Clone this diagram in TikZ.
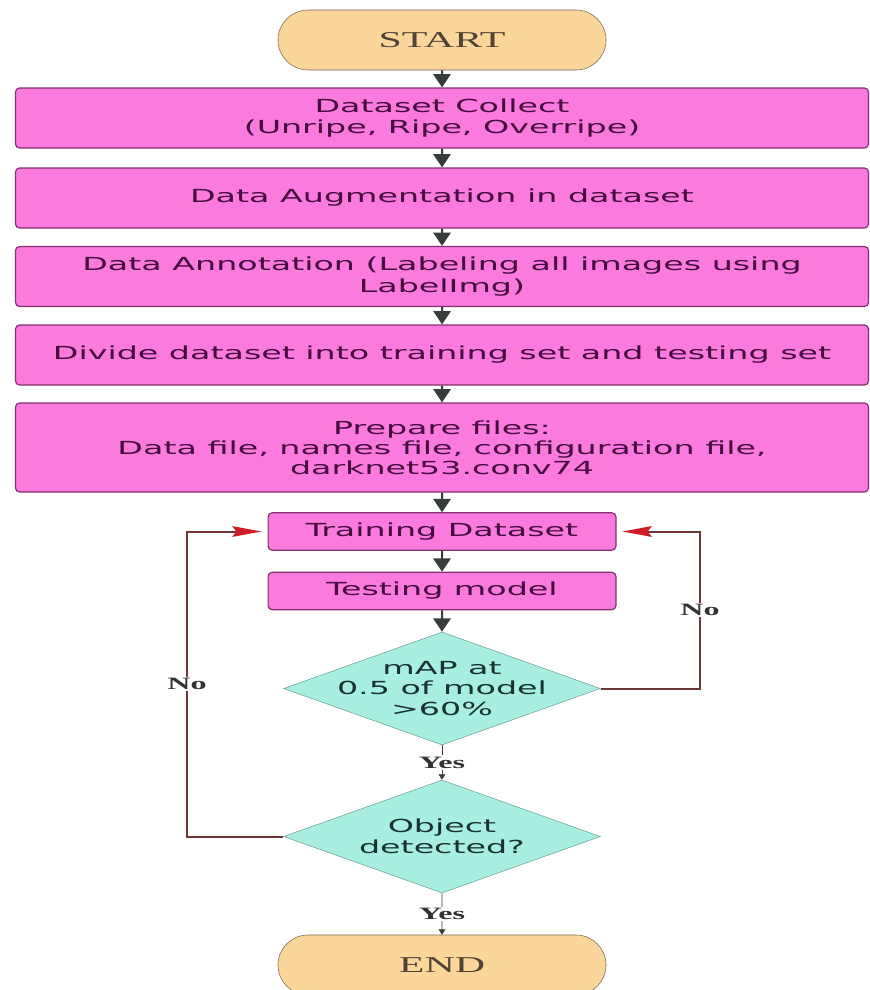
\documentclass[tikz,border=0pt]{standalone}
\usepackage{fontspec}
\setmainfont{Liberation Serif}
\newfontfamily\boxfont{DejaVu Sans}
\usepackage{tikz}
\usetikzlibrary{arrows.meta,shapes.geometric}
\definecolor{boxpink}{RGB}{250,122,222}
\definecolor{boxedge}{RGB}{130,50,110}
\definecolor{boxtext}{RGB}{70,10,62}
\definecolor{termfill}{RGB}{250,214,155}
\definecolor{termedge}{RGB}{120,100,80}
\definecolor{termtext}{RGB}{80,66,52}
\definecolor{decfill}{RGB}{168,238,225}
\definecolor{decedge}{RGB}{110,160,150}
\definecolor{dectext}{RGB}{22,50,50}
\definecolor{flowgrey}{RGB}{55,60,60}
\definecolor{loopline}{RGB}{110,55,55}
\definecolor{loophead}{RGB}{205,30,40}

\begin{document}
\begin{tikzpicture}[
  x=0.75pt, y=-0.75pt,
  nodes={xscale=1.85},
  term/.style={draw=termedge, fill=termfill, rounded corners=22.5pt,
               minimum width=133pt, minimum height=45pt,
               font=\fontsize{17}{20}\selectfont, text=termtext},
  stepbox/.style={draw=boxedge, line width=0.9pt, fill=boxpink, rounded corners=3pt,
               minimum width=345.8pt, minimum height=45pt, align=center,
               font=\boxfont\fontsize{13.5}{16}\selectfont, text=boxtext},
  smallbox/.style={stepbox, minimum width=141pt, minimum height=28pt},
  decision/.style={diamond, draw=decedge, fill=decfill, inner sep=0pt,
               minimum width=128.5pt, minimum height=84.75pt},
  dectxt/.style={align=center, text=dectext,
               font=\boxfont\fontsize{13.5}{15.4}\selectfont},
  arr/.style={-{Triangle[length=10pt, width=13pt]}, line width=1.5pt, flowgrey},
  yesarr/.style={-{Triangle[length=4pt, width=5pt]}, thin, flowgrey},
  backarr/.style={-{Stealth[length=22pt, width=8pt, inset=3pt, color=loophead]},
               line width=1.5pt, loopline, shorten >=4pt},
  lab/.style={fill=white, inner sep=1pt, text=black!80,
               font=\bfseries\fontsize{13}{14}\selectfont}
]

% page
\useasboundingbox[fill=white] (0,0) rectangle (869,990);

% Main column
\node[term] (start) at (442,40) {START};

\node[stepbox] (collect) at (442,118) {Dataset Collect\\(Unripe, Ripe, Overripe)};

\node[stepbox] (augment) at (442,198) {Data Augmentation in dataset};

\node[stepbox] (annot) at (442,276.5) {Data Annotation (Labeling all images using\\LabelImg)};

\node[stepbox] (divide) at (442,355) {Divide dataset into training set and testing set};

\node[stepbox, minimum height=66.75pt, font=\boxfont\fontsize{13.5}{15}\selectfont]
  (prepare) at (442,447.5) {Prepare files:\\Data file, names file, configuration file,\\darknet53.conv74};

\node[smallbox] (train) at (442,531.5) {Training Dataset};

\node[smallbox] (test) at (442,591) {Testing model};

% Decisions
\node[decision] (dec1) at (442,688.5) {};
\node[dectxt] (dec1txt) at (dec1) {mAP at\\0.5 of model\\>60\%};

\node[decision] (dec2) at (442,836.5) {};
\node[dectxt] (dec2txt) at (dec2) {Object\\detected?};

\node[term] (finish) at (442,965) {END};

% Straight flow
\draw[arr] (start) -- (collect);
\draw[arr] (collect) -- (augment);
\draw[arr] (augment) -- (annot);
\draw[arr] (annot) -- (divide);
\draw[arr] (divide) -- (prepare);
\draw[arr] (prepare) -- (train);
\draw[arr] (train) -- (test);
\draw[arr] (test) -- (dec1);

\draw[yesarr] (dec1) -- (dec2) node[lab, midway] {Yes};
\draw[yesarr] (dec2) -- (finish) node[lab, midway] {Yes};

% Loops back to training
\coordinate (rturn) at (700,688.5);
\coordinate (lturn) at (187,836.5);

\draw[backarr] (dec1.east) -- (rturn) |- (train.east) node[lab, pos=0.25] {No};
\draw[backarr] (dec2.west) -- (lturn) |- (train.west) node[lab, pos=0.25] {No};

\end{tikzpicture}
\end{document}
